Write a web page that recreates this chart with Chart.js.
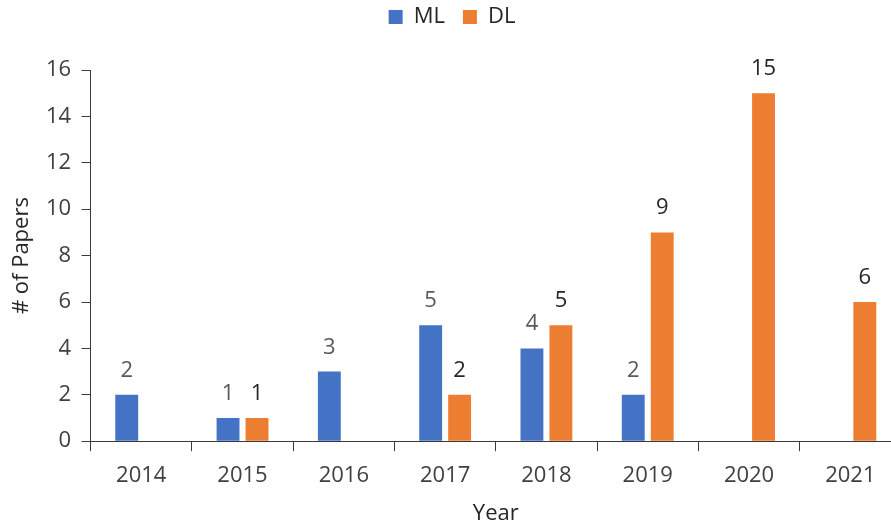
<!DOCTYPE html>
<html>
<head>
<meta charset="utf-8">
<script src="https://cdn.jsdelivr.net/npm/chart.js@4.4.0/dist/chart.umd.min.js"></script>
<style>
  html, body { margin: 0; padding: 0; background: #fff; overflow: hidden; }
  #wrap { width: 910px; height: 526px; position: relative; }
</style>
</head>
<body>
<div id="wrap"><canvas id="barChart"></canvas></div>
<script>
// Data
const years = ['2014', '2015', '2016', '2017', '2018', '2019', '2020', '2021'];
const mlPapers = [2, 1, 3, 5, 4, 2, null, null];
const dlPapers = [null, 1, null, 2, 5, 9, 15, 6];
const yTicks = [0, 2, 4, 6, 8, 10, 12, 14, 16];

Chart.defaults.font.family = "'Open Sans', sans-serif";
Chart.defaults.color = '#404040';

// Value labels above each bar
const barLabels = {
    id: 'barLabels',
    afterDatasetsDraw(chart) {
        const ctx = chart.ctx;
        ctx.save();
        ctx.font = "22px 'Open Sans', sans-serif";
        ctx.textAlign = 'center';
        ctx.textBaseline = 'alphabetic';
        chart.data.datasets.forEach((ds, i) => {
            const meta = chart.getDatasetMeta(i);
            ctx.fillStyle = ds.labelColor;
            meta.data.forEach((bar, j) => {
                const v = ds.data[j];
                if (v === null) return;
                ctx.fillText(String(v), bar.x, bar.y - 18);
            });
        });
        ctx.restore();
    }
};

// Extra room under the legend
const legendSpacer = {
    id: 'legendSpacer',
    beforeInit(chart) {
        const fit = chart.legend.fit;
        chart.legend.fit = function () {
            fit.bind(chart.legend)();
            this.height += 32;
        };
    }
};

new Chart(document.getElementById('barChart'), {
    type: 'bar',
    data: {
        labels: years,
        datasets: [
            {
                label: 'ML',
                data: mlPapers,
                backgroundColor: '#4472C4',
                labelColor: '#595959',
                categoryPercentage: 0.572,
                barPercentage: 0.79
            },
            {
                label: 'DL',
                data: dlPapers,
                backgroundColor: '#ED7D31',
                labelColor: '#262626',
                categoryPercentage: 0.572,
                barPercentage: 0.79
            }
        ]
    },
    options: {
        responsive: true,
        maintainAspectRatio: false,
        animation: false,
        layout: {
            padding: { left: 3, right: 9, top: -12, bottom: -1 }
        },
        plugins: {
            legend: {
                position: 'top',
                labels: {
                    boxWidth: 14,
                    boxHeight: 14,
                    padding: 18,
                    color: '#262626',
                    font: { size: 22 }
                }
            },
            tooltip: { enabled: false }
        },
        scales: {
            y: {
                min: 0,
                max: 16,
                afterBuildTicks: axis => {
                    axis.ticks = yTicks.map(v => ({ value: v }));
                },
                ticks: {
                    color: '#404040',
                    font: { size: 22 },
                    padding: 10.5
                },
                grid: {
                    drawOnChartArea: false,
                    tickLength: 9,
                    color: '#3a3a3a'
                },
                border: { color: '#3a3a3a' },
                title: {
                    display: true,
                    text: '# of Papers',
                    color: '#262626',
                    font: { size: 22 },
                    padding: { top: 6, bottom: 0 }
                }
            },
            x: {
                ticks: {
                    color: '#404040',
                    font: { size: 22 },
                    padding: 11
                },
                grid: {
                    drawOnChartArea: false,
                    tickLength: 10,
                    color: '#3a3a3a'
                },
                border: { color: '#3a3a3a' },
                title: {
                    display: true,
                    text: 'Year',
                    color: '#262626',
                    font: { size: 22 },
                    padding: { top: 1, bottom: 0 }
                }
            }
        }
    },
    plugins: [barLabels, legendSpacer]
});
</script>
</body>
</html>
